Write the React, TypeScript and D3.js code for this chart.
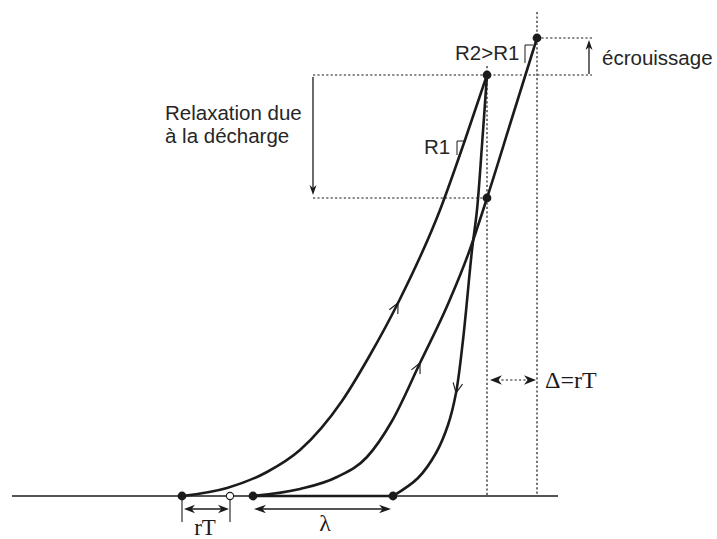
import React, { useEffect, useRef } from "react";
import * as d3 from "d3";

type Pt = [number, number];

// strain (x) / stress (y) in arbitrary diagram units
const loadCurve: Pt[] = [[170, 0], [215, 8], [255, 24], [288, 46], [330, 95], [358, 141], [386, 193], [428, 286], [453, 356], [475, 421]];
const reloadCurve: Pt[] = [[241, 0], [288, 7], [325, 19], [355, 39], [380, 75], [408, 133], [436, 192], [457, 244], [475, 298], [500, 378], [525, 458]];
const unloadCurve: Pt[] = [[475, 421], [470, 351], [465, 286], [460, 246], [451, 156], [444, 103], [436, 71], [424, 43], [406, 18], [381, 0]];
const keyPoints: Pt[] = [[170, 0], [241, 0], [381, 0], [475, 421], [475, 298], [525, 458]];
const openPoint: Pt = [218, 0];
const arrowStress: number[] = [193, 133, 103];
const sansLabels: string[] = ["R2>R1", "R1", "écrouissage", "Relaxation due", "à la décharge"];
const serifLabels: string[] = ["rT", "λ", "Δ=rT"];

export default function App() {
  const ref = useRef<SVGSVGElement>(null);
  useEffect(() => {
    const svg = d3.select(ref.current);
    svg.selectAll("*").remove();
    const ink = "#1b1b1b";
    const x = d3.scaleLinear().domain([0, 546]).range([12, 558]);
    const y = d3.scaleLinear().domain([0, 460]).range([496, 36]);
    const lineMono = d3.line<Pt>().x(d => x(d[0])).y(d => y(d[1])).curve(d3.curveMonotoneX);
    const lineCR = d3.line<Pt>().x(d => x(d[0])).y(d => y(d[1])).curve(d3.curveCatmullRom.alpha(0.5));

    const P = keyPoints[3], Q = keyPoints[4], R = keyPoints[5];
    const y0 = y(0);

    const seg = (x1: number, y1: number, x2: number, y2: number, w = 1.2, dash?: string) => {
      const l = svg.append("line").attr("x1", x1).attr("y1", y1).attr("x2", x2).attr("y2", y2)
        .attr("stroke", ink).attr("stroke-width", w);
      if (dash) l.attr("stroke-dasharray", dash);
      return l;
    };
    const head = (tx: number, ty: number, ang: number, len = 10, hw = 4) => {
      const dx = Math.cos(ang), dy = Math.sin(ang);
      const px = -dy, py = dx;
      const bx = tx - len * dx, by = ty - len * dy;
      const nx = tx - len * 0.7 * dx, ny = ty - len * 0.7 * dy;
      svg.append("path")
        .attr("d", `M${tx},${ty}L${bx + hw * px},${by + hw * py}L${nx},${ny}L${bx - hw * px},${by - hw * py}Z`)
        .attr("fill", ink);
    };

    // baseline
    seg(x(0), y0, x(546), y0, 1.3);
    // dotted guides
    const dash = "2.2,2.2";
    seg(x(P[0]), 66, x(P[0]), y0, 1.2, dash);
    seg(x(R[0]), 12, x(R[0]), y0, 1.2, dash);
    seg(313, y(P[1]), 592, y(P[1]), 1.2, dash);
    seg(x(R[0]), y(R[1]), 592, y(R[1]), 1.2, dash);
    seg(313, y(Q[1]), x(Q[0]), y(Q[1]), 1.2, dash);

    // thick segment B-C on baseline
    seg(x(keyPoints[1][0]), y0, x(keyPoints[2][0]), y0, 2.6);

    // curves
    const dStrings = [lineMono(loadCurve), lineMono(reloadCurve), lineCR(unloadCurve)];
    const paths = dStrings.map(d => svg.append("path").attr("d", d as string)
      .attr("fill", "none").attr("stroke", ink).attr("stroke-width", 2.6)
      .attr("stroke-linejoin", "round").attr("stroke-linecap", "round"));

    // chevrons on curves
    paths.forEach((p, i) => {
      const node = p.node() as SVGPathElement;
      const L = node.getTotalLength();
      const target = y(arrowStress[i]);
      const dec = node.getPointAtLength(0).y > node.getPointAtLength(L).y;
      let lo = 0, hi = L;
      for (let k = 0; k < 40; k++) {
        const m = (lo + hi) / 2;
        const py = node.getPointAtLength(m).y;
        if (dec ? py > target : py < target) lo = m; else hi = m;
      }
      const s = (lo + hi) / 2;
      const a = node.getPointAtLength(Math.max(0, s - 3));
      const b = node.getPointAtLength(Math.min(L, s + 3));
      const ang = Math.atan2(b.y - a.y, b.x - a.x);
      const tip = node.getPointAtLength(s);
      const len = 11, spread = 0.45;
      const w1x = tip.x - len * Math.cos(ang - spread), w1y = tip.y - len * Math.sin(ang - spread);
      const w2x = tip.x - len * Math.cos(ang + spread), w2y = tip.y - len * Math.sin(ang + spread);
      svg.append("path").attr("d", `M${w1x},${w1y}L${tip.x},${tip.y}L${w2x},${w2y}`)
        .attr("fill", "none").attr("stroke", ink).attr("stroke-width", 1.1);
    });

    // key points
    svg.selectAll("circle.k").data(keyPoints).enter().append("circle")
      .attr("cx", d => x(d[0])).attr("cy", d => y(d[1])).attr("r", 4.4).attr("fill", ink);
    svg.append("circle").attr("cx", x(openPoint[0])).attr("cy", y(openPoint[1])).attr("r", 3.6)
      .attr("fill", "white").attr("stroke", ink).attr("stroke-width", 1.1);

    // relaxation arrow
    seg(313, y(P[1]) + 2, 313, 188, 1.3);
    head(313, 195, Math.PI / 2, 10, 3.5);
    // ecrouissage arrow
    seg(589, y(P[1]) - 1, 589, 46, 1.3);
    head(589, 40, -Math.PI / 2, 10, 3.5);

    // rT ticks and arrow
    seg(x(keyPoints[0][0]), 500, x(keyPoints[0][0]), 522, 1.1);
    seg(x(openPoint[0]), 500, x(openPoint[0]), 522, 1.1);
    seg(188, 509, 224, 509, 1.3);
    head(184, 509, Math.PI, 11, 4.2);
    head(229, 509, 0, 11, 4.2);
    // lambda arrow
    seg(258, 509, 387, 509, 1.3);
    head(254, 509, Math.PI, 12, 4.2);
    head(391, 509, 0, 12, 4.2);
    // delta dotted arrow
    seg(497, 380, 529, 380, 1.2, dash);
    head(490, 380, Math.PI, 12, 4.8);
    head(536, 380, 0, 12, 4.8);

    // slope markers
    svg.append("path").attr("d", "M525,63V45H533").attr("fill", "none").attr("stroke", ink).attr("stroke-width", 1);
    svg.append("path").attr("d", "M457,155V141H464").attr("fill", "none").attr("stroke", ink).attr("stroke-width", 1);

    // labels
    const sans = (t: string, tx: number, ty: number) => svg.append("text").text(t).attr("x", tx).attr("y", ty)
      .attr("font-family", "'Liberation Sans', Arial, Helvetica, sans-serif").attr("font-size", 20.5).attr("fill", "#262626");
    sans(sansLabels[0], 455, 60);
    sans(sansLabels[1], 424, 154);
    sans(sansLabels[2], 602, 65);
    sans(sansLabels[3], 165, 120);
    sans(sansLabels[4], 165, 143);
    const serif = (t: string, tx: number, ty: number, size: number, anchor = "start") => svg.append("text").text(t).attr("x", tx).attr("y", ty)
      .attr("text-anchor", anchor)
      .attr("font-family", "'Liberation Serif', 'Times New Roman', serif").attr("font-size", size).attr("fill", "#1b1b1b");
    serif(serifLabels[0], 205, 535, 23, "middle");
    serif(serifLabels[1], 325, 531, 24, "middle");
    serif(serifLabels[2], 545, 388, 24);
  }, []);
  return (
    <svg ref={ref} width={717} height={539} style={{ position: "absolute", left: 0, top: 0, background: "white" }} />
  );
}
